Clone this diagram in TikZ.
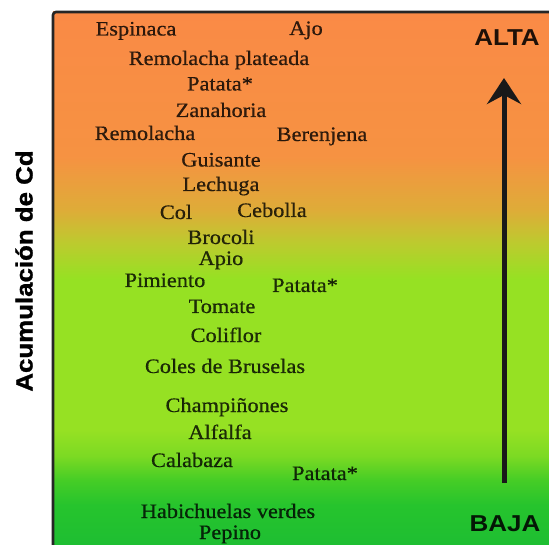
\documentclass[tikz,border=0pt]{standalone}
\usepackage{fontspec}
\setmainfont{Liberation Serif}
\newfontfamily\vegfont[FakeStretch=1.09,FakeBold=0.5]{Liberation Serif}
\newfontfamily\levfont[FakeStretch=1.13]{Liberation Sans}
\newfontfamily\axisfont[FakeStretch=1.1,FakeBold=1.2]{Liberation Sans}
\usetikzlibrary{arrows.meta}

\definecolor{cdtop}{RGB}{250,138,70}
\definecolor{cdorange}{RGB}{246,146,66}
\definecolor{cdamber}{RGB}{222,172,56}
\definecolor{cdlime}{RGB}{188,203,46}
\definecolor{cdlight}{RGB}{150,225,35}
\definecolor{cdmid}{RGB}{125,218,35}
\definecolor{cdgreen}{RGB}{70,205,38}
\definecolor{cddeep}{RGB}{38,196,45}
\definecolor{cdbottom}{RGB}{30,190,50}

% 25bp = bottom of the box, 75bp = top of the box
\pgfdeclareverticalshading{cdlevel}{100bp}{color(0bp)=(cdbottom); color(25bp)=(cdbottom);
  color(28.75bp)=(cddeep); color(31.1bp)=(cdgreen); color(33.4bp)=(cdmid);
  color(35.8bp)=(cdlight); color(50bp)=(cdlight); color(53.3bp)=(cdlime);
  color(56.4bp)=(cdamber); color(61.5bp)=(cdorange); color(75bp)=(cdtop);
  color(100bp)=(cdtop)}

\begin{document}
\begin{tikzpicture}[x=1pt,y=1pt]
\tikzstyle{every node}+=[inner sep=0pt]
\tikzstyle{veg}=[font=\vegfont\fontsize{20.5}{22}\selectfont, text=black, text opacity=0.8, anchor=base]
\tikzstyle{level}=[font=\levfont\bfseries\fontsize{23}{25}\selectfont, text=black, text opacity=0.88, anchor=base]
\useasboundingbox (0,0) rectangle (549,-545);
\fill [white] (0,0) rectangle (549,-545);
\shade [shading=cdlevel] (53,-12) rectangle (549,-545);
\draw [black!85, line width=2.6pt, rounded corners=3pt] (53,-545) -- (53,-12) -- (549,-12);
% axis title
\draw (32.5,-271) node [rotate=90, anchor=base, font=\axisfont\bfseries\fontsize{23.5}{26}\selectfont] (axis) {Acumulación de Cd};
% crops, high to low
\draw (136,-35.5) node [veg] (espinaca) {Espinaca};
\draw (306,-35) node [veg] (ajo) {Ajo};
\draw (219,-65) node [veg] (remplat) {Remolacha plateada};
\draw (220,-90.5) node [veg] (patataA) {Patata*};
\draw (221,-117) node [veg] (zanahoria) {Zanahoria};
\draw (145,-140) node [veg] (remolacha) {Remolacha};
\draw (322,-141) node [veg] (berenjena) {Berenjena};
\draw (221,-166.5) node [veg] (guisante) {Guisante};
\draw (221,-191) node [veg] (lechuga) {Lechuga};
\draw (176,-219) node [veg] (col) {Col};
\draw (272,-217) node [veg] (cebolla) {Cebolla};
\draw (221,-244) node [veg] (brocoli) {Brocoli};
\draw (221,-265) node [veg] (apio) {Apio};
\draw (165,-287) node [veg] (pimiento) {Pimiento};
\draw (305,-292) node [veg] (patataB) {Patata*};
\draw (222,-313) node [veg] (tomate) {Tomate};
\draw (226,-342) node [veg] (coliflor) {Coliflor};
\draw (225,-373) node [veg] (coles) {Coles de Bruselas};
\draw (227,-412) node [veg] (champ) {Champiñones};
\draw (220,-439) node [veg] (alfalfa) {Alfalfa};
\draw (192,-467) node [veg] (calabaza) {Calabaza};
\draw (325,-480) node [veg] (patataC) {Patata*};
\draw (228,-518) node [veg] (habich) {Habichuelas verdes};
\draw (230,-539) node [veg] (pepino) {Pepino};
% scale on the right
\draw (507,-46) node [level] (alta) {ALTA};
\draw (505,-531) node [level] (baja) {BAJA};
\coordinate (arrlow) at (504,-483);
\coordinate (arrtip) at (504,-78);
\draw [black!90, line width=5pt, -{Stealth[length=26pt, width=34pt, inset=9pt]}] (arrlow) -- (arrtip);
\end{tikzpicture}
\end{document}
